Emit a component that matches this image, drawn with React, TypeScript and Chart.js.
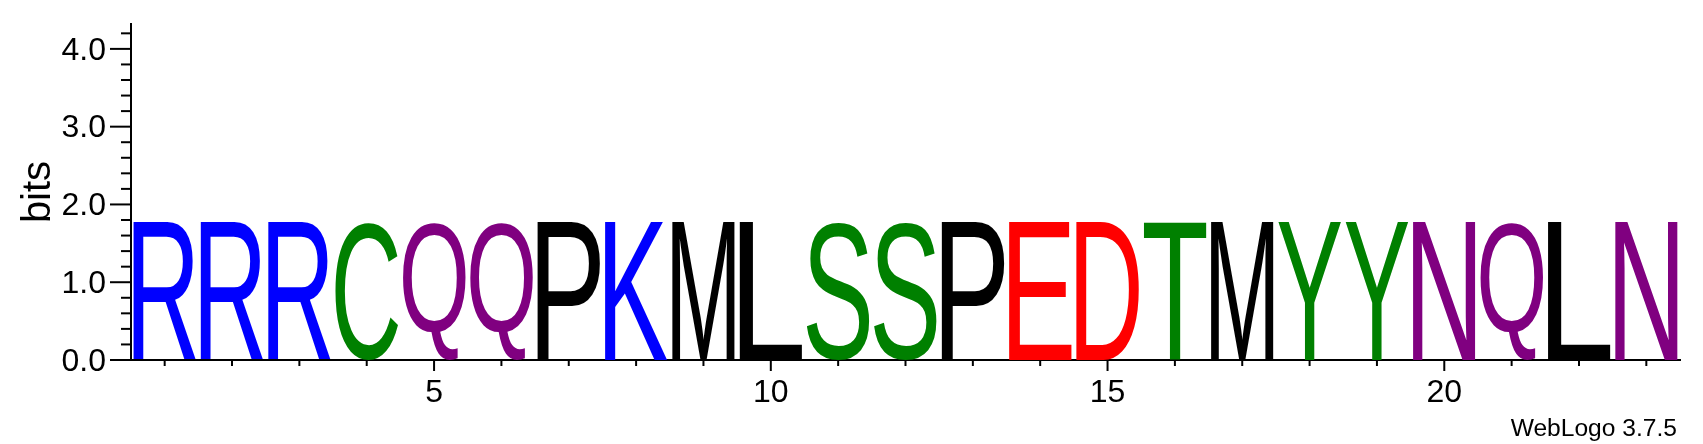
import React, { useEffect, useRef } from 'react';
import { Chart, registerables } from 'chart.js';

Chart.register(...registerables);

// ---- data ----
const POSITIONS = [1, 2, 3, 4, 5, 6, 7, 8, 9, 10, 11, 12, 13, 14, 15, 16, 17, 18, 19, 20, 21, 22, 23];
const LETTERS = ['R', 'R', 'R', 'C', 'Q', 'Q', 'P', 'K', 'M', 'L', 'S', 'S', 'P', 'E', 'D', 'T', 'M', 'Y', 'Y', 'N', 'Q', 'L', 'N'];
const BITS = [1.77, 1.77, 1.77, 1.77, 1.77, 1.77, 1.77, 1.77, 1.77, 1.77, 1.77, 1.77, 1.77, 1.77, 1.77, 1.77, 1.77, 1.77, 1.77, 1.77, 1.77, 1.77, 1.77];
const Y_MAX = 4.32;
const Y_LABELED = [0, 1, 2, 3, 4];
const X_LABELED = [5, 10, 15, 20];
const Y_TITLE = 'bits';
const FINEPRINT = 'WebLogo 3.7.5';

// chemistry colour scheme
const COLORS: Record<string, string> = {
  R: '#0000ff', K: '#0000ff', H: '#0000ff',
  D: '#ff0000', E: '#ff0000',
  G: '#008000', S: '#008000', T: '#008000', Y: '#008000', C: '#008000',
  Q: '#800080', N: '#800080',
  A: '#000000', V: '#000000', L: '#000000', I: '#000000', P: '#000000', W: '#000000', F: '#000000', M: '#000000',
};

const FONT = '"Liberation Sans", Arial, Helvetica, sans-serif';
const LETTER_FONT = '200px "Liberation Sans"';

const isInt = (v: number) => Math.abs(v - Math.round(v)) < 1e-6;

const logoPlugin = {
  id: 'logoLetters',
  afterDatasetsDraw(chart: any) {
    const ctx = chart.ctx as CanvasRenderingContext2D;
    const meta = chart.getDatasetMeta(0);
    meta.data.forEach((el: any, i: number) => {
      const { x, y, base, width } = el.getProps(['x', 'y', 'base', 'width'], true);
      const letter = LETTERS[i];
      ctx.save();
      ctx.font = LETTER_FONT;
      ctx.textAlign = 'left';
      ctx.textBaseline = 'alphabetic';
      const m = ctx.measureText(letter);
      const bl = m.actualBoundingBoxLeft;
      const br = m.actualBoundingBoxRight;
      const ba = m.actualBoundingBoxAscent;
      const bd = m.actualBoundingBoxDescent;
      const top = Math.min(y, base);
      const h = Math.abs(base - y);
      ctx.translate(x - width / 2, top);
      ctx.scale(width / (bl + br), h / (ba + bd));
      ctx.fillStyle = COLORS[letter] || '#000';
      ctx.fillText(letter, bl, ba);
      ctx.restore();
    });
  },
  afterDraw(chart: any) {
    const ctx = chart.ctx as CanvasRenderingContext2D;
    const xs = chart.scales.x;
    const ys = chart.scales.y;
    const { left, bottom } = chart.chartArea;
    ctx.save();
    ctx.strokeStyle = '#000';
    ctx.lineWidth = 2;
    ys.ticks.forEach((t: any) => {
      const py = ys.getPixelForValue(t.value);
      const len = isInt(t.value) ? 21 : 10;
      ctx.beginPath();
      ctx.moveTo(left - len, py);
      ctx.lineTo(left, py);
      ctx.stroke();
    });
    xs.ticks.forEach((t: any) => {
      const px = xs.getPixelForValue(t.value);
      const len = X_LABELED.includes(t.value) ? 11 : 6;
      ctx.beginPath();
      ctx.moveTo(px, bottom);
      ctx.lineTo(px, bottom + len);
      ctx.stroke();
    });
    // y-axis title
    ctx.fillStyle = '#000';
    ctx.font = `40px ${FONT}`;
    ctx.save();
    ctx.translate(50, (ys.getPixelForValue(0) + ys.getPixelForValue(Y_MAX)) / 2);
    ctx.rotate(-Math.PI / 2);
    ctx.textAlign = 'center';
    ctx.textBaseline = 'alphabetic';
    ctx.fillText(Y_TITLE, 0, 0);
    ctx.restore();
    // fineprint
    ctx.font = `24.6px ${FONT}`;
    ctx.textAlign = 'right';
    ctx.textBaseline = 'alphabetic';
    ctx.fillText(FINEPRINT, 1677, 436);
    ctx.restore();
  },
};

const zeroPadding = (s: any) => {
  s.paddingTop = 0;
  s.paddingBottom = 0;
  s.paddingLeft = 0;
  s.paddingRight = 0;
};

export default function App() {
  const canvasRef = useRef<HTMLCanvasElement | null>(null);

  useEffect(() => {
    if (!canvasRef.current) return;
    const chart = new Chart(canvasRef.current, {
      type: 'bar',
      data: {
        datasets: [
          {
            data: POSITIONS.map((p, i) => ({ x: p, y: BITS[i] })),
            backgroundColor: 'rgba(0,0,0,0)',
            borderWidth: 0,
            barPercentage: 0.93,
            categoryPercentage: 1,
          },
        ],
      },
      options: {
        responsive: false,
        animation: false,
        devicePixelRatio: 1,
        layout: { padding: { left: 0, right: 23, top: 24, bottom: 0 } },
        plugins: { legend: { display: false }, tooltip: { enabled: false } },
        scales: {
          x: {
            type: 'linear',
            min: 0.5,
            max: 23.5,
            offset: false,
            grid: { display: false, drawTicks: false },
            border: { display: true, color: '#000', width: 2 },
            afterBuildTicks: (s: any) => {
              s.ticks = POSITIONS.map((v) => ({ value: v }));
            },
            ticks: {
              autoSkip: false,
              maxRotation: 0,
              minRotation: 0,
              padding: 14,
              color: '#000',
              font: { family: FONT, size: 32 },
              callback: (v: any) => (X_LABELED.includes(Number(v)) ? String(v) : ''),
            },
            afterFit: (s: any) => {
              s.height = 84;
              zeroPadding(s);
            },
          },
          y: {
            type: 'linear',
            min: 0,
            max: Y_MAX,
            grid: { display: false, drawTicks: false },
            border: { display: true, color: '#000', width: 2 },
            ticks: {
              stepSize: 0.2,
              includeBounds: false,
              autoSkip: false,
              padding: 25,
              labelOffset: 2,
              color: '#000',
              font: { family: FONT, size: 32 },
              callback: (v: any) => {
                const n = Number(v);
                return isInt(n) && Y_LABELED.includes(Math.round(n)) ? n.toFixed(1) : '';
              },
            },
            afterFit: (s: any) => {
              s.width = 131;
              zeroPadding(s);
            },
          },
        },
      },
      plugins: [logoPlugin],
    } as any);
    return () => chart.destroy();
  }, []);

  return (
    <div style={{ position: 'fixed', left: 0, top: 0, width: 1703, height: 444, background: '#fff' }}>
      <canvas ref={canvasRef} width={1703} height={444} style={{ width: 1703, height: 444, display: 'block' }} />
    </div>
  );
}
